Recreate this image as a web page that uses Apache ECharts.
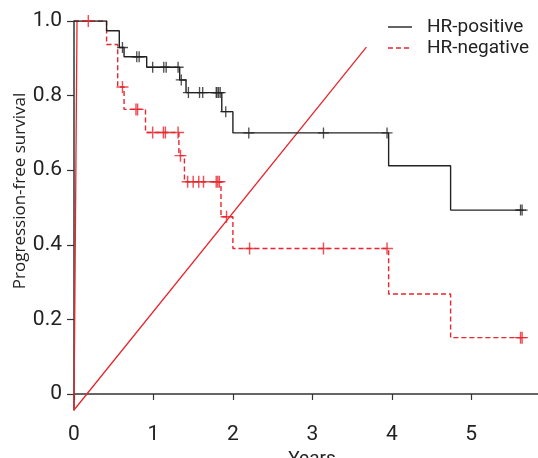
<!DOCTYPE html>
<html>
<head>
<meta charset="utf-8">
<script src="https://cdn.jsdelivr.net/npm/echarts@6/dist/echarts.min.js"></script>
<style>
  html, body { margin: 0; padding: 0; background: #fff; }
  #chart { width: 538px; height: 458px; }
</style>
</head>
<body>
<div id="chart"></div>
<script>
// Kaplan-Meier steps
var posTimes = [0, 0.41, 0.57, 0.63, 0.915, 1.33, 1.41, 1.86, 2.0, 3.96, 4.74, 5.65];
var posSurv  = [1, 0.974, 0.929, 0.904, 0.876, 0.842, 0.808, 0.757, 0.70, 0.612, 0.493, 0.493];
var negTimes = [0, 0.41, 0.55, 0.63, 0.90, 1.32, 1.39, 1.85, 2.0, 3.96, 4.74, 5.65];
var negSurv  = [1, 0.937, 0.823, 0.763, 0.701, 0.639, 0.569, 0.475, 0.39, 0.268, 0.151, 0.151];

// censored observations (the + marks)
var posCensorTimes = [0.61, 0.79, 0.82, 0.99, 1.13, 1.16, 1.31, 1.35, 1.44, 1.58, 1.62, 1.79, 1.80, 1.82, 1.84, 1.91, 2.20, 3.14, 3.94, 5.62, 5.64];
var posCensorSurv  = [0.929, 0.904, 0.904, 0.876, 0.876, 0.876, 0.876, 0.842, 0.808, 0.808, 0.808, 0.808, 0.808, 0.808, 0.808, 0.757, 0.70, 0.70, 0.70, 0.493, 0.493];
var negCensorTimes = [0.18, 0.61, 0.78, 0.80, 0.99, 1.125, 1.15, 1.31, 1.34, 1.43, 1.50, 1.57, 1.63, 1.79, 1.81, 1.83, 1.92, 2.21, 3.14, 3.94, 5.62, 5.64];
var negCensorSurv  = [1.0, 0.823, 0.763, 0.763, 0.701, 0.701, 0.701, 0.701, 0.639, 0.569, 0.569, 0.569, 0.569, 0.569, 0.569, 0.569, 0.475, 0.39, 0.39, 0.39, 0.151, 0.151];

// stray solid red strokes in the original figure
var strayTimes = [0.038, 0, 3.68];
var straySurv  = [1.0, -0.043, 0.93];

var xTicks = [0, 1, 2, 3, 4, 5];
var yTicks = [0, 0.2, 0.4, 0.6, 0.8, 1.0];
var legendNames = ['HR-positive', 'HR-negative'];

function pairs(xs, ys) {
    return xs.map(function (x, i) { return [x, ys[i]]; });
}

var plus = 'path://M4.4,0H5.6V10H4.4Z M0,4.4H10V5.6H0Z';
var black = '#222';
var red = '#e8262d';
var font = 'Roboto';

// hand-drawn legend (line sample + label), top right
var legendGraphics = [];
legendNames.forEach(function (name, i) {
    var y = 27 + i * 21;
    legendGraphics.push({
        type: 'line',
        shape: { x1: 388, y1: y, x2: 412, y2: y },
        style: { stroke: i ? red : black, lineWidth: 1.4, lineDash: i ? [5, 3] : null }
    });
    legendGraphics.push({
        type: 'text',
        x: 427,
        y: y,
        style: { text: name, fontFamily: font, fontSize: 19, fill: black, verticalAlign: 'middle' }
    });
});

var myChart = echarts.init(document.getElementById('chart'), null, {renderer: 'canvas'});
myChart.setOption({
    animation: false,
    textStyle: { fontFamily: font },
    grid: { left: 74, right: 0, top: 21, bottom: 48, outerBoundsMode: 'none', containLabel: false },
    xAxis: {
        type: 'value',
        min: 0,
        max: 5.84,
        interval: 1,
        name: 'Years',
        nameLocation: 'middle',
        nameGap: 29,
        nameTextStyle: { color: black, fontSize: 19, padding: [0, 0, 0, 12] },
        axisLine: { lineStyle: { color: '#333', width: 1.5 } },
        axisTick: { show: true, length: 6, customValues: xTicks, lineStyle: { color: '#333', width: 1.2 } },
        axisLabel: { customValues: xTicks, margin: 14, color: black, fontSize: 21 },
        splitLine: { show: false }
    },
    yAxis: {
        type: 'value',
        min: -0.043,
        max: 1.0,
        axisLine: { show: true, lineStyle: { color: '#333', width: 1.5 } },
        axisTick: { show: true, length: 7, customValues: yTicks, lineStyle: { color: '#333', width: 1.2 } },
        axisLabel: {
            customValues: yTicks,
            margin: 12,
            color: black,
            fontSize: 21,
            formatter: function (v) { return v === 0 ? '0' : v.toFixed(1); }
        },
        splitLine: { show: false }
    },
    graphic: legendGraphics.concat([{
        type: 'text',
        x: 20,
        y: 191,
        rotation: Math.PI / 2,
        style: {
            text: 'Progression-free survival',
            fontFamily: 'Open Sans',
            fontSize: 17,
            fill: black,
            align: 'center',
            verticalAlign: 'middle'
        }
    }]),
    series: [
        {
            name: 'stray',
            type: 'line',
            data: pairs(strayTimes, straySurv),
            symbol: 'none',
            lineStyle: { color: red, width: 1.3 },
            silent: true,
            z: 1
        },
        {
            name: 'HR-positive',
            type: 'line',
            step: 'end',
            data: pairs(posTimes, posSurv),
            symbol: 'none',
            lineStyle: { color: black, width: 1.4 },
            z: 3
        },
        {
            name: 'HR-negative',
            type: 'line',
            step: 'end',
            data: pairs(negTimes, negSurv),
            symbol: 'none',
            lineStyle: { color: red, width: 1.4, type: [5, 3] },
            z: 2
        },
        {
            name: 'posCensor',
            type: 'scatter',
            data: pairs(posCensorTimes, posCensorSurv),
            symbol: plus,
            symbolSize: 11,
            itemStyle: { color: black },
            z: 4
        },
        {
            name: 'negCensor',
            type: 'scatter',
            data: pairs(negCensorTimes, negCensorSurv),
            symbol: plus,
            symbolSize: 12,
            itemStyle: { color: red },
            z: 4
        }
    ]
});
</script>
</body>
</html>
